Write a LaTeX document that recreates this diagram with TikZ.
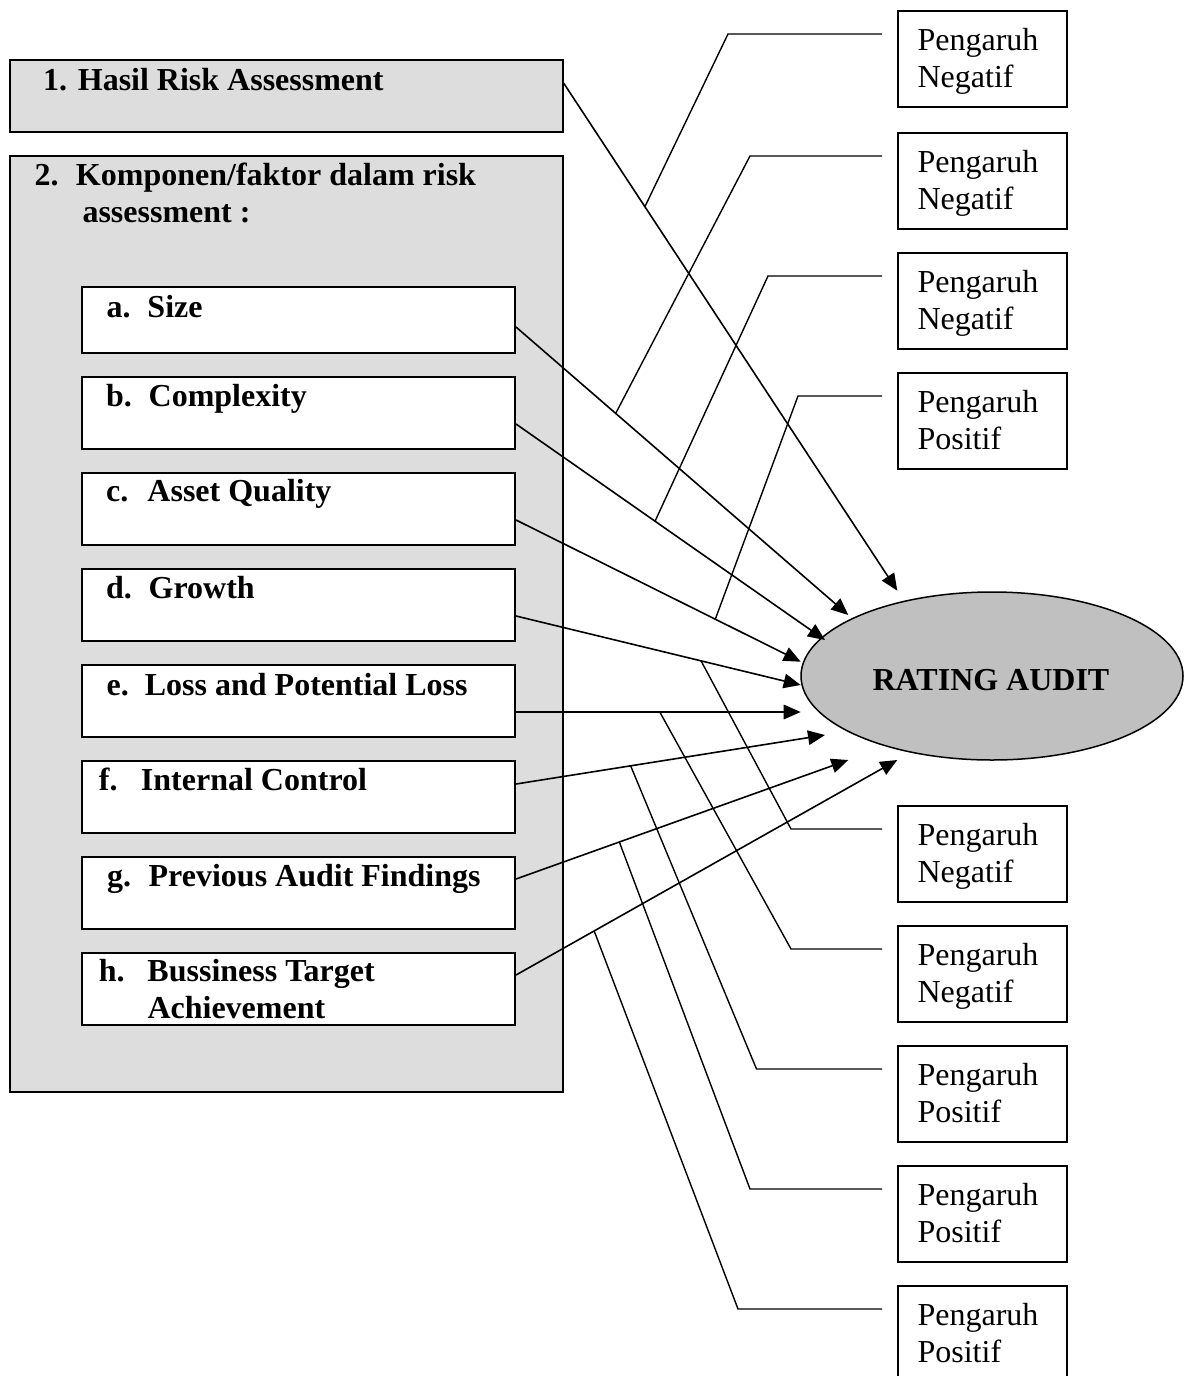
\documentclass[tikz,border=0pt]{standalone}
\usepackage{fontspec}
\setmainfont{Liberation Serif}
\usetikzlibrary{arrows.meta,calc,shapes.geometric}
\definecolor{boxgray}{RGB}{221,221,221}
\definecolor{ellgray}{RGB}{192,192,192}
\begin{document}
\begin{tikzpicture}[x=1pt,y=-1pt,
  graybox/.style={draw, line width=1.6pt, fill=boxgray, minimum width=553pt, anchor=north west, inner sep=0pt},
  itembox/.style={draw, line width=2pt, fill=white, minimum width=433pt, minimum height=72pt, anchor=north west, inner sep=0pt},
  pbox/.style={draw, line width=1.6pt, fill=white, minimum width=169pt, minimum height=96pt, anchor=north west, inner sep=0pt},
  lbl/.style={font=\fontsize{32}{37}\selectfont\bfseries, inner sep=0pt, anchor=base west},
  ptxt/.style={font=\fontsize{32}{36.7}\selectfont, inner sep=0pt, anchor=base west},
  arr/.style={line width=1.6pt, -{Triangle[length=17pt,width=14.5pt]}},
  pline/.style={line width=1.4pt}
]
\useasboundingbox (0,0) rectangle (1184,1376);
\clip (0,0) rectangle (1184,1376);

% left grey boxes
\node[graybox, minimum height=72pt] (box1) at (9,59) {};
\node[graybox, minimum height=936pt] (box2) at (9,155) {};
\node[lbl] (box1txt) at (43,90.7) {1. Hasil Risk Assessment};
\node[lbl] (box2txt) at (34.4,185) {\parbox[t]{520pt}{\makebox[41.4pt][l]{2.}Komponen/faktor dalam risk\\\hspace*{47.9pt}assessment :}};

% item boxes
\node[itembox, minimum height=66pt] (a) at (81,286) {};
\node[itembox] (b) at (81,376) {};
\node[itembox] (c) at (81,472) {};
\node[itembox] (d) at (81,568) {};
\node[itembox] (e) at (81,664) {};
\node[itembox] (f) at (81,760) {};
\node[itembox] (g) at (81,856) {};
\node[itembox] (h) at (81,952) {};
\node[lbl] (atxt) at (106.4,317) {\makebox[40.9pt][l]{a.}Size};
\node[lbl] (btxt) at (106,406.7) {\makebox[42.5pt][l]{b.}Complexity};
\node[lbl] (ctxt) at (106,501.7) {\makebox[41.3pt][l]{c.}Asset Quality};
\node[lbl] (dtxt) at (106,598) {\makebox[42.5pt][l]{d.}Growth};
\node[lbl] (etxt) at (106.4,695) {\makebox[38.3pt][l]{e.}Loss and Potential Loss};
\node[lbl] (ftxt) at (98.7,790.7) {\makebox[42.1pt][l]{f.}Internal Control};
\node[lbl] (gtxt) at (107,886.7) {\makebox[41.5pt][l]{g.}Previous Audit Findings};
\node[lbl] (htxt) at (98.7,981.7) {\parbox[t]{420pt}{\fontsize{32}{36.3}\selectfont\makebox[48.6pt][l]{h.}Bussiness Target\\\hspace*{48.6pt}Achievement}};

% rating ellipse
\node[ellipse, draw, line width=1.5pt, fill=ellgray, minimum width=382pt, minimum height=168pt, inner sep=0pt] (rating) at (992,676) {};
\node[lbl, anchor=base] (ratingtxt) at (991,690.7) {RATING AUDIT};

% Pengaruh boxes
\foreach \n/\y/\w in {p1/10/Negatif, p2/132/Negatif, p3/252/Negatif, p4/372/Positif,
                      p5/805/Negatif, p6/925/Negatif, p7/1045/Positif, p8/1165/Positif, p9/1285/Positif}{
  \node[pbox] (\n) at (897,\y) {};
  \node[ptxt] (\n txt) at ($(\n.north west)+(20.4,40.7)$) {\parbox[t]{150pt}{Pengaruh\\\w}};
}

% arrow start and tip coordinates
\coordinate (s1) at ($(box1.north east)+(0,24)$);
\coordinate (sa) at ($(a.north east)+(0,41)$);
\coordinate (sb) at ($(b.north east)+(0,48)$);
\coordinate (sc) at ($(c.north east)+(0,48)$);
\coordinate (sd) at ($(d.north east)+(0,48)$);
\coordinate (se) at ($(e.north east)+(0,48)$);
\coordinate (sf) at ($(f.north east)+(0,24)$);
\coordinate (sg) at ($(g.north east)+(0,23)$);
\coordinate (sh) at ($(h.north east)+(0,23)$);
\coordinate (t1) at (897.3,590.7);
\coordinate (ta) at (848.3,615);
\coordinate (tb) at (825,640);
\coordinate (tc) at (800.7,661.7);
\coordinate (td) at (800.7,685);
\coordinate (te) at (800.7,712);
\coordinate (tf) at (825,735);
\coordinate (tg) at (848.3,760);
\coordinate (th) at (897.3,760);

% arrows
\draw[arr] (s1) -- (t1);
\draw[arr] (sa) -- (ta);
\draw[arr] (sb) -- (tb);
\draw[arr] (sc) -- (tc);
\draw[arr] (sd) -- (td);
\draw[arr] (se) -- (te);
\draw[arr] (sf) -- (tf);
\draw[arr] (sg) -- (tg);
\draw[arr] (sh) -- (th);

% Pengaruh connectors
\draw[pline] ($(p1.north west)+(-15,24)$) -- ++(-154,0) -- ($(s1)!0.2436!(t1)$);
\draw[pline] ($(p2.north west)+(-15,24)$) -- ++(-132,0) -- ($(sa)!0.30!(ta)$);
\draw[pline] ($(p3.north west)+(-15,24)$) -- ++(-114,0) -- ($(sb)!0.45!(tb)$);
\draw[pline] ($(p4.north west)+(-15,24)$) -- ++(-84,0) -- ($(sc)!0.70!(tc)$);
\draw[pline] ($(p5.north west)+(-15,24)$) -- ++(-91,0) -- ($(sd)!0.65!(td)$);
\draw[pline] ($(p6.north west)+(-15,24)$) -- ++(-91,0) -- ($(se)!0.505!(te)$);
\draw[pline] ($(p7.north west)+(-15,24)$) -- ++(-125.5,0) -- ($(sf)!0.371!(tf)$);
\draw[pline] ($(p8.north west)+(-15,24)$) -- ++(-132,0) -- ($(sg)!0.311!(tg)$);
\draw[pline] ($(p9.north west)+(-15,24)$) -- ++(-144,0) -- ($(sh)!0.205!(th)$);
\end{tikzpicture}
\end{document}
